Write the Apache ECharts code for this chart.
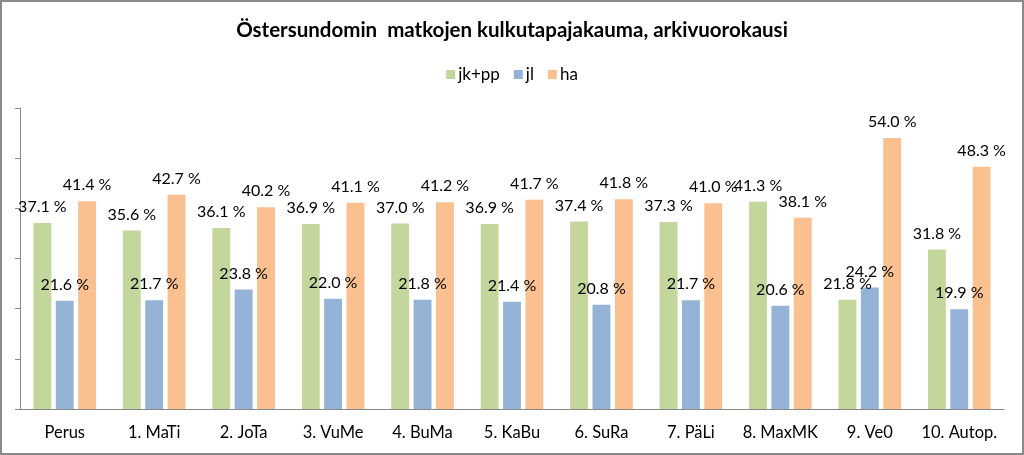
<!doctype html>
<html>
	<head>
		<meta charset="utf-8">
		<title>Östersundomin matkojen kulkutapajakauma</title>
		<style>
			html, body { margin: 0; padding: 0; background: #fff; }
		</style>
	</head>
	<body>
		<div id="container" style="height: 455px; width: 1024px;"></div>

		<script src="https://cdn.jsdelivr.net/npm/echarts@6/dist/echarts.min.js"></script>

		<script>
			// ennusteet, arkivuorokausi (%)
			const categories = ['Perus', '1. MaTi', '2. JoTa', '3. VuMe', '4. BuMa', '5. KaBu',
				'6. SuRa', '7. PäLi', '8. MaxMK', '9. Ve0', '10. Autop.'];
			const jkpp = [37.1, 35.6, 36.1, 36.9, 37.0, 36.9, 37.4, 37.3, 41.3, 21.8, 31.8];
			const jl   = [21.6, 21.7, 23.8, 22.0, 21.8, 21.4, 20.8, 21.7, 20.6, 24.2, 19.9];
			const ha   = [41.4, 42.7, 40.2, 41.1, 41.2, 41.7, 41.8, 41.0, 38.1, 54.0, 48.3];

			const font = 'Lato, "Liberation Sans", sans-serif';

			function bar(name, data, color) {
				return {
					name: name,
					type: 'bar',
					data: data,
					barGap: '25%',
					barCategoryGap: '30%',
					itemStyle: { color: color },
					label: {
						show: true,
						position: 'top',
						distance: 8,
						color: '#000',
						fontFamily: font,
						fontSize: 16,
						formatter: p => p.value.toFixed(1) + ' %'
					}
				};
			}

			var myChart = echarts.init(document.getElementById('container'));

			myChart.setOption({
				animation: false,
				title: {
					text: 'Östersundomin  matkojen kulkutapajakauma, arkivuorokausi',
					left: 'center',
					top: 15,
					textStyle: { fontFamily: font, fontSize: 20.5, fontWeight: 'bold', color: '#000' }
				},
				legend: {
					top: 61,
					left: 'center',
					itemWidth: 9,
					itemHeight: 9,
					itemGap: 14,
					icon: 'rect',
					textStyle: { fontFamily: font, fontSize: 17, color: '#000', padding: [0, 0, 0, -2] }
				},
				graphic: [{
					type: 'rect',
					shape: { x: 1, y: 1, width: 1022, height: 453 },
					style: { fill: 'none', stroke: '#8a8a8a', lineWidth: 2 },
					silent: true
				}],
				grid: { left: 20, right: 20, top: 108, bottom: 46 },
				xAxis: {
					type: 'category',
					data: categories,
					axisLine: { lineStyle: { color: '#888' } },
					axisTick: { show: false },
					axisLabel: { interval: 0, fontFamily: font, fontSize: 16.5, color: '#000', margin: 15 }
				},
				yAxis: {
					type: 'value',
					min: 0,
					max: 60,
					interval: 10,
					axisLine: { show: true, lineStyle: { color: '#888' } },
					axisTick: { show: true, length: 5, lineStyle: { color: '#888' } },
					axisLabel: { show: false },
					splitLine: { show: false }
				},
				series: [
					bar('jk+pp', jkpp, '#C3D69B'),
					bar('jl', jl, '#95B3D7'),
					bar('ha', ha, '#FAC090')
				]
			});
		</script>
	</body>
</html>
